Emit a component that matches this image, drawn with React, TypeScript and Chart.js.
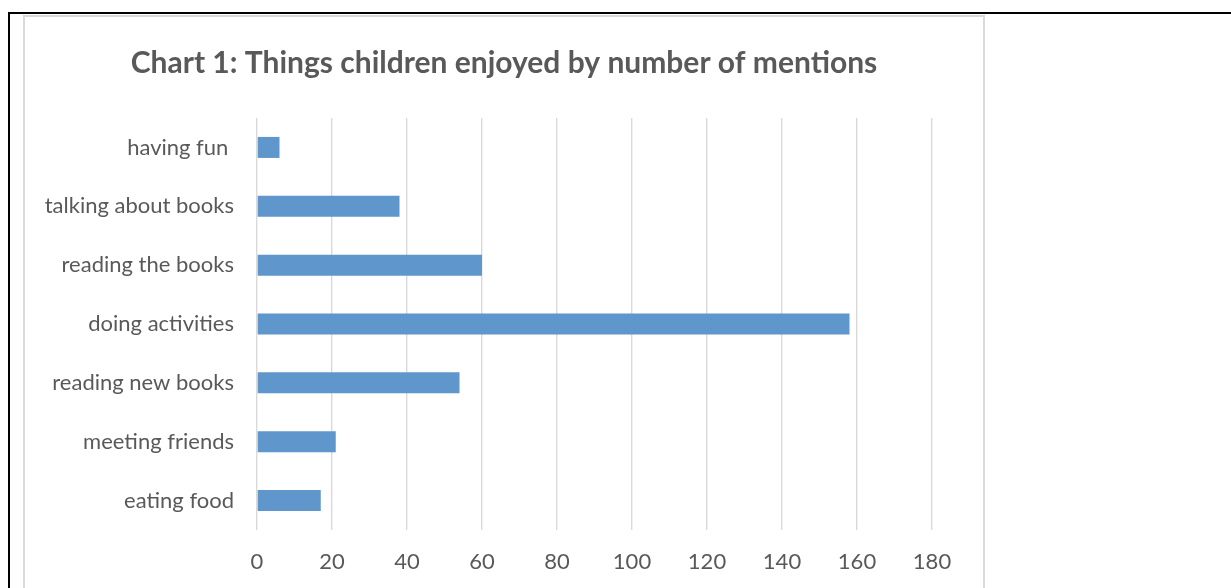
import React, { useEffect, useRef } from "react";
import { Chart, registerables } from "chart.js";

Chart.register(...registerables);

const chartTitle = "Chart 1: Things children enjoyed by number of mentions";
const categories = [
  "having fun ",
  "talking about books",
  "reading the books",
  "doing activities",
  "reading new books",
  "meeting friends",
  "eating food",
];
const mentions = [6, 38, 60, 158, 54, 21, 17];
const xTickValues = [0, 20, 40, 60, 80, 100, 120, 140, 160, 180];

const FONT = "Lato, 'Open Sans', sans-serif";
const TEXT = "#595959";
const GRID = "#d9d9d9";

// Center the title over the full canvas width (like the spreadsheet chart title)
const fullWidthTitle = {
  id: "fullWidthTitle",
  afterLayout(chart: any) {
    const tb = chart.titleBlock;
    if (tb) {
      tb.left = 0;
      tb.right = chart.width;
      tb.width = chart.width;
    }
  },
};

export default function App() {
  const ref = useRef<HTMLCanvasElement | null>(null);

  useEffect(() => {
    if (!ref.current) return;
    const chart = new Chart(ref.current, {
      type: "bar",
      data: {
        labels: categories,
        datasets: [
          {
            data: mentions,
            backgroundColor: "#5f96cb",
            borderWidth: 0,
            categoryPercentage: 1,
            barPercentage: 0.357,
          },
        ],
      },
      plugins: [fullWidthTitle],
      options: {
        indexAxis: "y",
        responsive: false,
        animation: false,
        devicePixelRatio: 1,
        layout: { padding: { left: 0, right: 51, top: 0, bottom: 0 } },
        plugins: {
          legend: { display: false },
          tooltip: { enabled: false },
          title: {
            display: true,
            text: chartTitle,
            color: TEXT,
            font: { family: FONT, size: 30, weight: "bold" },
            padding: { top: 28, bottom: 37 },
          },
        },
        scales: {
          x: {
            min: xTickValues[0],
            max: xTickValues[xTickValues.length - 1],
            afterBuildTicks: (scale: any) => {
              scale.ticks = xTickValues.map((v) => ({ value: v }));
            },
            grid: { color: GRID, lineWidth: 1.4, drawTicks: false },
            border: { display: false },
            ticks: {
              color: TEXT,
              font: { family: FONT, size: 22 },
              padding: 19,
              maxRotation: 0,
            },
            afterFit: (scale: any) => {
              scale.height = 58;
            },
          },
          y: {
            grid: { display: false, drawTicks: false },
            border: { display: false },
            ticks: {
              color: TEXT,
              font: { family: FONT, size: 22 },
              padding: 23,
            },
            afterFit: (scale: any) => {
              scale.width = 232;
            },
          },
        },
      },
    });
    return () => chart.destroy();
  }, []);

  return (
    <div style={{ position: "fixed", inset: 0, overflow: "hidden", background: "#fff" }}>
      <div
        style={{
          position: "absolute",
          left: 8,
          top: 12,
          width: 1400,
          height: 800,
          borderTop: "2px solid #000",
          borderLeft: "2px solid #000",
        }}
      />
      <div
        style={{
          position: "absolute",
          left: 23,
          top: 15,
          width: 958,
          height: 800,
          border: `2px solid ${GRID}`,
        }}
      >
        <canvas ref={ref} width={958} height={571} style={{ display: "block", width: 958, height: 571 }} />
      </div>
    </div>
  );
}
